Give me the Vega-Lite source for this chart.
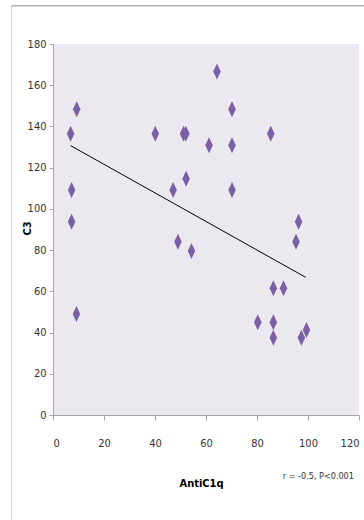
{
  "$schema": "https://vega.github.io/schema/vega-lite/v6.json",
  "width": 306,
  "height": 371,
  "autosize": {"type": "none"},
  "padding": {"left": 53, "top": 44, "right": 5, "bottom": 105},
  "background": "white",
  "config": {
    "view": {"fill": "#EBE9EF", "stroke": null},
    "font": "DejaVu Sans Condensed, Liberation Sans Narrow, sans-serif",
    "axis": {
      "grid": false,
      "domainColor": "#A6A6A6",
      "tickColor": "#A6A6A6",
      "labelColor": "#333333",
      "labelFont": "DejaVu Sans Condensed, Liberation Sans Narrow, sans-serif",
      "labelFontSize": 11,
      "titleFont": "DejaVu Sans Condensed, Liberation Sans Narrow, sans-serif",
      "titleFontSize": 11,
      "titleColor": "#000000"
    }
  },
  "datasets": {
    "points": [
      {"antic1q": 9.3, "c3": 148.4},
      {"antic1q": 6.9, "c3": 136.5},
      {"antic1q": 7.3, "c3": 109.2},
      {"antic1q": 7.3, "c3": 93.8},
      {"antic1q": 9.2, "c3": 49.0},
      {"antic1q": 40.1, "c3": 136.5},
      {"antic1q": 47.1, "c3": 109.2},
      {"antic1q": 49.0, "c3": 84.1},
      {"antic1q": 51.2, "c3": 136.5},
      {"antic1q": 52.1, "c3": 136.5},
      {"antic1q": 52.2, "c3": 114.6},
      {"antic1q": 54.3, "c3": 79.6},
      {"antic1q": 61.2, "c3": 130.9},
      {"antic1q": 64.3, "c3": 166.7},
      {"antic1q": 70.2, "c3": 148.4},
      {"antic1q": 70.2, "c3": 130.9},
      {"antic1q": 70.2, "c3": 109.2},
      {"antic1q": 85.4, "c3": 136.5},
      {"antic1q": 80.3, "c3": 45.0},
      {"antic1q": 86.4, "c3": 61.5},
      {"antic1q": 86.4, "c3": 45.0},
      {"antic1q": 86.4, "c3": 37.5},
      {"antic1q": 90.4, "c3": 61.5},
      {"antic1q": 95.3, "c3": 84.1},
      {"antic1q": 96.3, "c3": 93.8},
      {"antic1q": 97.4, "c3": 37.5},
      {"antic1q": 99.4, "c3": 41.3}
    ],
    "trend": [
      {"antic1q": 6.9, "c3": 130.7},
      {"antic1q": 99.1, "c3": 66.8}
    ],
    "frameTop": [
      {"x": -16.3, "x2": 125, "y": 198.5}
    ],
    "frameLeft": [
      {"x": -16.3, "y": 198.5, "y2": -55}
    ],
    "note": [
      {"x": 118, "y": -29.6, "label": "r = -0.5, P<0.001"}
    ]
  },
  "layer": [
    {
      "data": {"name": "frameTop"},
      "mark": {"type": "rule", "color": "#8C8C8C", "strokeWidth": 1, "clip": false},
      "encoding": {
        "x": {"field": "x", "type": "quantitative", "scale": {"domain": [0, 120], "nice": false}},
        "x2": {"field": "x2"},
        "y": {"field": "y", "type": "quantitative", "scale": {"domain": [0, 180], "nice": false}}
      }
    },
    {
      "data": {"name": "frameLeft"},
      "mark": {"type": "rule", "color": "#D0D0D0", "strokeWidth": 1, "clip": false},
      "encoding": {
        "x": {"field": "x", "type": "quantitative"},
        "y": {"field": "y", "type": "quantitative"},
        "y2": {"field": "y2"}
      }
    },
    {
      "data": {"name": "trend"},
      "mark": {"type": "line", "color": "#000000", "strokeWidth": 1},
      "encoding": {
        "x": {"field": "antic1q", "type": "quantitative"},
        "y": {"field": "c3", "type": "quantitative"}
      }
    },
    {
      "data": {"name": "points"},
      "mark": {
        "type": "point",
        "shape": "M0,-1L0.47,0L0,1L-0.47,0Z",
        "size": 256,
        "filled": true,
        "opacity": 1,
        "color": "#7B5FA5"
      },
      "encoding": {
        "x": {
          "field": "antic1q",
          "type": "quantitative",
          "scale": {"domain": [0, 120], "nice": false},
          "axis": {
            "values": [0, 20, 40, 60, 80, 100, 120],
            "tickSize": 5,
            "labelPadding": 17,
            "title": "AntiC1q",
            "titleFontWeight": "bold",
            "titleX": 148,
            "titleY": 62,
            "titleBaseline": "top",
            "titleAnchor": "middle"
          }
        },
        "y": {
          "field": "c3",
          "type": "quantitative",
          "scale": {"domain": [0, 180], "nice": false},
          "axis": {
            "values": [0, 20, 40, 60, 80, 100, 120, 140, 160, 180],
            "tickSize": 4,
            "labelPadding": 3,
            "title": "C3",
            "titleFontWeight": "bold",
            "titleX": -26,
            "titleY": 184,
            "titleAngle": -90,
            "titleAlign": "center",
            "titleBaseline": "middle"
          }
        }
      }
    },
    {
      "data": {"name": "note"},
      "mark": {"type": "text", "fontSize": 9, "color": "#333333", "align": "right", "baseline": "middle", "clip": false, "font": "DejaVu Sans Condensed, Liberation Sans Narrow, sans-serif"},
      "encoding": {
        "x": {"field": "x", "type": "quantitative"},
        "y": {"field": "y", "type": "quantitative"},
        "text": {"field": "label"}
      }
    }
  ]
}
